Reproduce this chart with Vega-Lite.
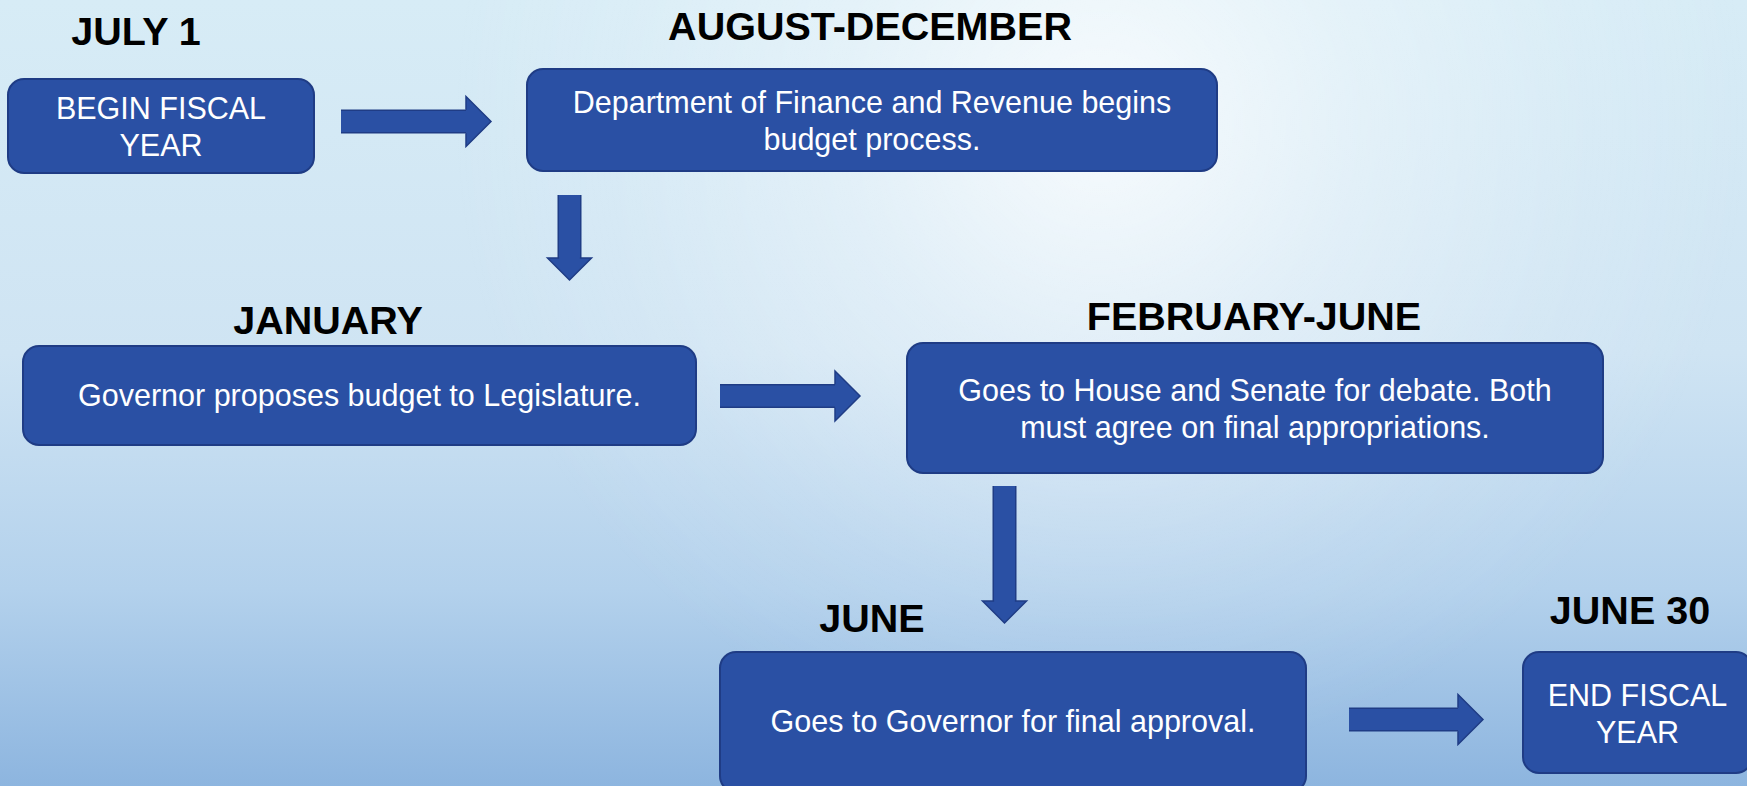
{
  "$schema": "https://vega.github.io/schema/vega-lite/v6.json",
  "width": 1747,
  "height": 786,
  "autosize": {"type": "fit", "contains": "padding"},
  "padding": 0,
  "background": "#D8ECF6",
  "config": {"view": {"stroke": null}},
  "datasets": {
    "steps": [
      {"step": 1, "period": "JULY 1", "label": "BEGIN FISCAL\nYEAR", "x0": 8, "x1": 314, "y0": 79, "y1": 173, "hx": 136, "hy": 45},
      {"step": 2, "period": "AUGUST-DECEMBER", "label": "Department of Finance and Revenue begins\nbudget process.", "x0": 527, "x1": 1217, "y0": 69, "y1": 171, "hx": 870, "hy": 40},
      {"step": 3, "period": "JANUARY", "label": "Governor proposes budget to Legislature.", "x0": 23, "x1": 696, "y0": 346, "y1": 445, "hx": 328, "hy": 334},
      {"step": 4, "period": "FEBRUARY-JUNE", "label": "Goes to House and Senate for debate. Both\nmust agree on final appropriations.", "x0": 907, "x1": 1603, "y0": 343, "y1": 473, "hx": 1254, "hy": 330},
      {"step": 5, "period": "JUNE", "label": "Goes to Governor for final approval.", "x0": 720, "x1": 1306, "y0": 652, "y1": 792, "hx": 872, "hy": 632},
      {"step": 6, "period": "JUNE 30", "label": "END FISCAL\nYEAR", "x0": 1523, "x1": 1752, "y0": 652, "y1": 773, "hx": 1630, "hy": 624}
    ],
    "arrows": [
      {"from": 1, "to": 2, "orient": "right", "x": 341, "y": 121.5, "x2": 466, "y2": 121.5},
      {"from": 2, "to": 3, "orient": "down", "x": 569.5, "y": 195, "x2": 569.5, "y2": 258},
      {"from": 3, "to": 4, "orient": "right", "x": 720, "y": 396, "x2": 835, "y2": 396},
      {"from": 4, "to": 5, "orient": "down", "x": 1004.5, "y": 486, "x2": 1004.5, "y2": 601},
      {"from": 5, "to": 6, "orient": "right", "x": 1349, "y": 719.5, "x2": 1458, "y2": 719.5}
    ]
  },
  "layer": [
    {
      "data": {"values": [{"bg": 1}]},
      "mark": {
        "type": "rect", "clip": true, "stroke": null,
        "fill": {"gradient": "linear", "x1": 0.5, "y1": 0, "x2": 0.5, "y2": 1,
          "stops": [
            {"offset": 0, "color": "#D7ECF6"},
            {"offset": 0.45, "color": "#CFE4F3"},
            {"offset": 0.75, "color": "#B3D1EC"},
            {"offset": 1, "color": "#8DB5DF"}
          ]}
      },
      "encoding": {
        "x": {"datum": 0, "type": "quantitative", "scale": {"domain": [0, 1747], "nice": false, "zero": false}, "axis": null},
        "x2": {"datum": 1747},
        "y": {"datum": 0, "type": "quantitative", "scale": {"domain": [0, 786], "nice": false, "zero": false, "reverse": true}, "axis": null},
        "y2": {"datum": 786}
      }
    },
    {
      "data": {"values": [{"bg": 2}]},
      "mark": {
        "type": "rect", "clip": true, "stroke": null,
        "fill": {"gradient": "radial", "x1": 0.63, "y1": 0.344, "r1": 0, "x2": 0.63, "y2": 0.344, "r2": 0.37,
          "stops": [
            {"offset": 0, "color": "rgba(255,255,255,0.8)"},
            {"offset": 0.4, "color": "rgba(255,255,255,0.35)"},
            {"offset": 0.75, "color": "rgba(255,255,255,0.1)"},
            {"offset": 1, "color": "rgba(255,255,255,0)"}
          ]}
      },
      "encoding": {
        "x": {"datum": 0, "type": "quantitative"},
        "x2": {"datum": 1747},
        "y": {"datum": 0, "type": "quantitative"},
        "y2": {"datum": 786}
      }
    },
    {
      "data": {"name": "steps"},
      "mark": {"type": "rect", "clip": true, "cornerRadius": 16, "fill": "#2A50A4", "stroke": "#1F3C85", "strokeWidth": 2},
      "encoding": {
        "x": {"field": "x0", "type": "quantitative"},
        "x2": {"field": "x1"},
        "y": {"field": "y0", "type": "quantitative"},
        "y2": {"field": "y1"}
      }
    },
    {
      "data": {"name": "steps"},
      "transform": [
        {"filter": "indexof(datum.label, '\\n') < 0"},
        {"calculate": "(datum.x0 + datum.x1) / 2", "as": "cx"},
        {"calculate": "(datum.y0 + datum.y1) / 2", "as": "cy"}
      ],
      "mark": {"type": "text", "clip": true, "dy": 1, "fontSize": 30.5, "font": "Liberation Sans", "color": "#FFFFFF", "align": "center", "baseline": "middle"},
      "encoding": {
        "x": {"field": "cx", "type": "quantitative"},
        "y": {"field": "cy", "type": "quantitative"},
        "text": {"field": "label"}
      }
    },
    {
      "data": {"name": "steps"},
      "transform": [
        {"filter": "indexof(datum.label, '\\n') >= 0"},
        {"calculate": "(datum.x0 + datum.x1) / 2", "as": "cx"},
        {"calculate": "(datum.y0 + datum.y1) / 2", "as": "cy"}
      ],
      "mark": {"type": "text", "clip": true, "lineBreak": "\n", "lineHeight": 37, "dy": -16, "fontSize": 30.5, "font": "Liberation Sans", "color": "#FFFFFF", "align": "center", "baseline": "middle"},
      "encoding": {
        "x": {"field": "cx", "type": "quantitative"},
        "y": {"field": "cy", "type": "quantitative"},
        "text": {"field": "label"}
      }
    },
    {
      "data": {"name": "steps"},
      "mark": {"type": "text", "clip": true, "fontSize": 39.5, "fontWeight": "bold", "font": "Liberation Sans", "color": "#000000", "align": "center", "baseline": "alphabetic"},
      "encoding": {
        "x": {"field": "hx", "type": "quantitative"},
        "y": {"field": "hy", "type": "quantitative"},
        "text": {"field": "period"}
      }
    },
    {
      "data": {"name": "arrows"},
      "mark": {"type": "rule", "clip": true, "color": "#1F3C85", "strokeWidth": 24, "strokeCap": "butt"},
      "encoding": {
        "x": {"field": "x", "type": "quantitative"},
        "y": {"field": "y", "type": "quantitative"},
        "x2": {"field": "x2"},
        "y2": {"field": "y2"}
      }
    },
    {
      "data": {"name": "arrows"},
      "mark": {"type": "rule", "clip": true, "color": "#2A50A4", "strokeWidth": 21, "strokeCap": "butt"},
      "encoding": {
        "x": {"field": "x", "type": "quantitative"},
        "y": {"field": "y", "type": "quantitative"},
        "x2": {"field": "x2"},
        "y2": {"field": "y2"}
      }
    },
    {
      "data": {"name": "arrows"},
      "mark": {"type": "point", "clip": true, "filled": true, "opacity": 1, "fill": "#2A50A4", "stroke": "#1F3C85", "strokeWidth": 1.5, "shape": "M0,-0.47L0,-1L1,0L0,1L0,0.47"},
      "encoding": {
        "x": {"field": "x2", "type": "quantitative"},
        "y": {"field": "y2", "type": "quantitative"},
        "size": {"condition": {"test": "datum.orient === 'down'", "value": 1936}, "value": 2500},
        "angle": {"condition": {"test": "datum.orient === 'down'", "value": 90}, "value": 0}
      }
    }
  ]
}
